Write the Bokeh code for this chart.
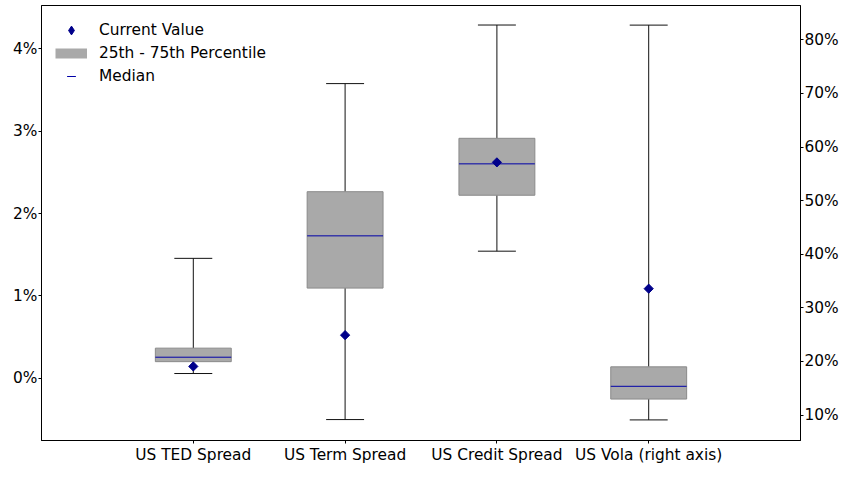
import numpy as np
from bokeh.plotting import figure
from bokeh.models import (Range1d, LinearAxis, FixedTicker, ColumnDataSource,
                          Legend, LegendItem)
from bokeh.embed import file_html
from bokeh.resources import INLINE

# ---- data ----
categories = ["US TED Spread", "US Term Spread", "US Credit Spread", "US Vola (right axis)"]
positions = [1, 2, 3, 4]
axis_side = ["left", "left", "left", "right"]
whisker_low = [0.058, -0.501, 1.543, 9.1]
q1 = [0.202, 1.095, 2.222, 12.99]
median = [0.256, 1.729, 2.603, 15.37]
q3 = [0.366, 2.265, 2.913, 19.0]
whisker_high = [1.456, 3.577, 4.288, 82.74]
current = [0.144, 0.524, 2.621, 33.58]

left_ticks = [0, 1, 2, 3, 4]
right_ticks = [10, 20, 30, 40, 50, 60, 70, 80]

BOX_W = 0.5
CAP_W = 0.25
FONT = "DejaVu Sans"
FS = "15.4px"
BLUE_MED = "#0000a8"
BLUE_PT = "#00008b"

p = figure(width=841, height=466,
           x_range=Range1d(0, 5), y_range=Range1d(-0.755, 4.525),
           output_backend="svg", toolbar_location=None,
           min_border_left=41, min_border_right=38,
           min_border_top=5, min_border_bottom=22)
p.extra_y_ranges = {"right": Range1d(5.26, 86.4)}
p.background_fill_color = "white"
p.border_fill_color = "white"
p.outline_line_color = "black"
p.outline_line_width = 1
p.outline_line_alpha = 1
p.xgrid.visible = False
p.ygrid.visible = False

def style_axis(ax, standoff=2):
    ax.axis_line_color = "black"
    ax.major_tick_line_color = "black"
    ax.major_tick_out = 3
    ax.major_tick_in = 0
    ax.minor_tick_line_color = None
    ax.major_label_text_font = FONT
    ax.major_label_text_font_size = FS
    ax.major_label_text_color = "black"
    ax.major_label_standoff = standoff

# x axis
xa = p.xaxis[0]
xa.ticker = FixedTicker(ticks=positions)
xa.major_label_overrides = {pos: lab for pos, lab in zip(positions, categories)}
style_axis(xa, 2)

# left axis
ya = p.yaxis[0]
ya.ticker = FixedTicker(ticks=left_ticks)
ya.major_label_overrides = {t: f"{t}%" for t in left_ticks}
style_axis(ya, 1)

# right axis
ra = LinearAxis(y_range_name="right")
ra.ticker = FixedTicker(ticks=right_ticks)
ra.major_label_overrides = {t: f"{t}%" for t in right_ticks}
style_axis(ra, 1)
p.add_layout(ra, "right")

for side in ["left", "right"]:
    idx = [i for i, s in enumerate(axis_side) if s == side]
    pos = np.array([positions[i] for i in idx], dtype=float)
    src = ColumnDataSource(dict(
        x=pos,
        xl=pos - BOX_W / 2, xr=pos + BOX_W / 2,
        cl=pos - CAP_W / 2, cr=pos + CAP_W / 2,
        wlo=[whisker_low[i] for i in idx],
        q1=[q1[i] for i in idx],
        med=[median[i] for i in idx],
        q3=[q3[i] for i in idx],
        whi=[whisker_high[i] for i in idx],
        cur=[current[i] for i in idx],
    ))
    kw = {} if side == "left" else {"y_range_name": "right"}
    # whiskers
    p.segment(x0="x", y0="q3", x1="x", y1="whi", source=src, line_color="#111111", line_width=1, **kw)
    p.segment(x0="x", y0="q1", x1="x", y1="wlo", source=src, line_color="#111111", line_width=1, **kw)
    # caps
    p.segment(x0="cl", y0="whi", x1="cr", y1="whi", source=src, line_color="#111111", line_width=1, **kw)
    p.segment(x0="cl", y0="wlo", x1="cr", y1="wlo", source=src, line_color="#111111", line_width=1, **kw)
    # box
    p.vbar(x="x", width=BOX_W, top="q3", bottom="q1", source=src,
           fill_color="#a9a9a9", line_color="#8a8a8a", line_width=1, **kw)
    # median
    p.segment(x0="xl", y0="med", x1="xr", y1="med", source=src, line_color=BLUE_MED, line_width=1, **kw)
    # current value
    p.scatter(x="x", y="cur", source=src, marker="square", angle=np.pi / 4, size=6.5,
              fill_color=BLUE_PT, line_color=BLUE_PT, **kw)

# legend-only renderers (nothing drawn in the plot: NaN coordinates)
leg_cur = p.scatter(x=[np.nan], y=[np.nan], marker="diamond", fill_color=BLUE_PT, line_color=BLUE_PT)
leg_box = p.segment(x0=[np.nan], y0=[np.nan], x1=[np.nan], y1=[np.nan],
                    line_color="#a9a9a9", line_width=10, line_cap="butt")
leg_med = p.scatter(x=[np.nan], y=[np.nan], marker="dash", line_color=BLUE_MED, line_width=1)

legend = Legend(items=[
    LegendItem(label="Current Value", renderers=[leg_cur]),
    LegendItem(label="25th - 75th Percentile", renderers=[leg_box]),
    LegendItem(label="Median", renderers=[leg_med]),
], location="top_left")
legend.border_line_alpha = 0
legend.background_fill_alpha = 0
legend.margin = 2
legend.padding = 12
legend.glyph_width = 32
legend.glyph_height = 22
legend.label_height = 16
legend.spacing = 1
legend.label_standoff = 12
legend.label_text_font = FONT
legend.label_text_font_size = FS
legend.label_text_color = "black"
p.add_layout(legend)

open("out.html", "w").write(file_html(p, INLINE))
